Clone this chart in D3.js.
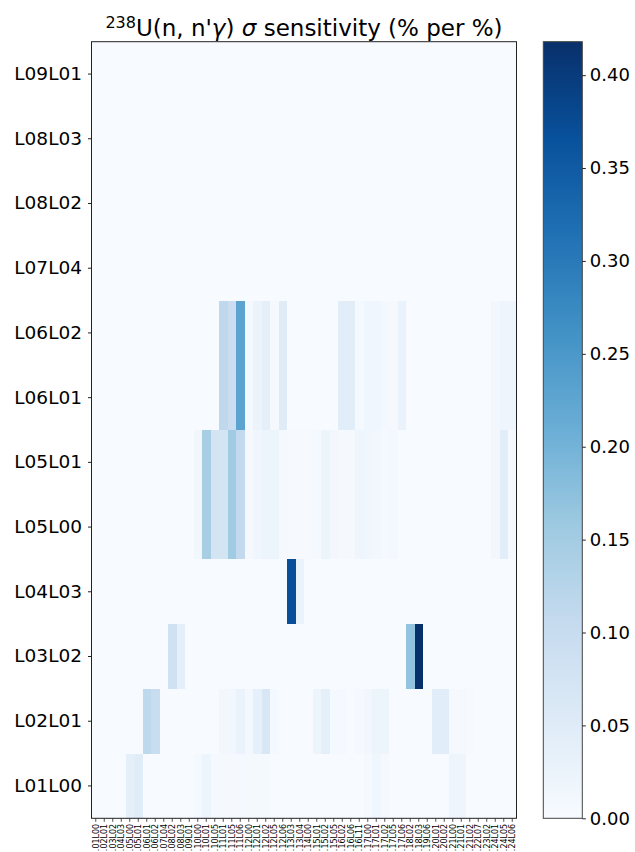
<!DOCTYPE html>
<html><head><meta charset="utf-8">
<script src="https://cdn.jsdelivr.net/npm/d3@7"></script>
<style>body{margin:0;background:#fff} svg{display:block} text{font-family:"DejaVu Sans",sans-serif}</style>
</head><body><svg id="c" width="635" height="852"></svg>
<script>
const rowLabels = ["L09L01","L08L03","L08L02","L07L04","L06L02","L06L01","L05L01","L05L00","L04L03","L03L02","L02L01","L01L00"];
const colLabels = [".01L00",".02L01",".03L02",".04L03",".05L00",".05L01",".06L01",".06L02",".07L04",".08L02",
  ".08L03",".09L01",".10L00",".10L01",".10L05",".11L01",".11L05",".11L06",".12L00",".12L01",
  ".12L02",".12L05",".12L06",".13L03",".13L04",".14L00",".15L01",".15L02",".15L05",".16L02",
  ".16L06",".16L11",".17L00",".17L01",".17L02",".17L05",".17L06",".18L02",".18L03",".19L06",
  ".20L01",".20L02",".21L00",".21L01",".21L02",".22L07",".23L02",".24L01",".24L05",".24L06"];

const L09L01 = [0,0,0,0,0,0,0,0,0,0, 0,0,0,0,0,0,0,0,0,0, 0,0,0,0,0,0,0,0,0,0, 0,0,0,0,0,0,0,0,0,0, 0,0,0,0,0,0,0,0,0,0];
const L08L03 = [0,0,0,0,0,0,0,0,0,0, 0,0,0,0,0,0,0,0,0,0, 0,0,0,0,0,0,0,0,0,0, 0,0,0,0,0,0,0,0,0,0, 0,0,0,0,0,0,0,0,0,0];
const L08L02 = [0,0,0,0,0,0,0,0,0,0, 0,0,0,0,0,0,0,0,0,0, 0,0,0,0,0,0,0,0,0,0, 0,0,0,0,0,0,0,0,0,0, 0,0,0,0,0,0,0,0,0,0];
const L07L04 = [0,0,0,0,0,0,0,0,0,0, 0,0,0,0,0,0,0,0,0,0, 0,0,0,0,0,0,0,0,0,0, 0,0,0,0,0,0,0,0,0,0, 0,0,0,0,0,0,0,0,0,0];
const L06L02 = [0,0,0,0,0,0,0,0,0,0, 0,0,0,0,0,.114,.094,.23,.008,.025, .04,.005,.05,0,0,0,0,0,0,.045, .045,.008,.016,.016,.01,.005,.028,0,0,0, 0,0,0,0,0,0,0,.012,.018,.018];
const L06L01 = [0,0,0,0,0,0,0,0,0,0, 0,0,0,0,0,.114,.094,.23,.008,.025, .04,.005,.05,0,0,0,0,0,0,.045, .045,.008,.016,.016,.01,.005,.028,0,0,0, 0,0,0,0,0,0,0,.012,.018,.018];
const L05L01 = [0,0,0,0,0,0,0,0,0,0, 0,0,.012,.144,.076,.076,.154,.11,.005,.015, .02,.022,.005,.002,.002,.002,.008,.022,.012,.005, .005,.018,.016,.012,.008,.01,0,0,0,0, 0,0,0,0,0,0,0,.012,.045,.005];
const L05L00 = [0,0,0,0,0,0,0,0,0,0, 0,0,.012,.144,.076,.076,.154,.11,.005,.015, .02,.022,.005,.002,.002,.002,.008,.022,.012,.005, .005,.018,.016,.012,.008,.01,0,0,0,0, 0,0,0,0,0,0,0,.012,.045,.005];
const L04L03 = [0,0,0,0,0,0,0,0,0,0, 0,0,0,0,0,0,0,0,0,0, 0,0,0,.37,.027,0,0,0,0,0, 0,0,0,0,0,0,0,0,0,0, 0,0,0,0,0,0,0,0,0,0];
const L03L02 = [0,0,0,0,0,0,0,0,0,.085, .04,0,0,0,0,0,0,0,0,0, 0,0,0,0,0,0,0,0,0,0, 0,0,0,0,0,0,0,.168,.418,0, 0,0,0,0,0,0,0,0,0,0];
const L02L01 = [0,0,0,0,0,0,.115,.098,0,0, 0,0,0,0,0,.012,.013,.028,.01,.035, .065,.008,0,0,0,0,.02,.04,.008,.008, 0,.008,.013,.022,.02,0,0,0,0,0, .045,.045,.005,.005,.004,0,0,0,0,0];
const L01L00 = [0,0,0,0,.04,.048,0,0,0,0, 0,0,.008,.02,.005,.006,.005,.008,.006,.006, .006,0,0,0,0,0,0,0,0,0, 0,0,.008,.015,.005,0,0,0,0,0, 0,0,.018,.018,0,0,0,0,0,0];

const rowValues = [L09L01,L08L03,L08L02,L07L04,L06L02,L06L01,L05L01,L05L00,L04L03,L03L02,L02L01,L01L00];
const cbTicks = [0,0.05,0.10,0.15,0.20,0.25,0.30,0.35,0.40];
const vmax = 0.418;
const blues = ["#f7fbff","#deebf7","#c6dbef","#9ecae1","#6baed6","#4292c6","#2171b5","#08519c","#08306b"];

const svg = d3.select("#c");
const P = {l:91.5, r:516.5, t:41.7, b:818.3};
const CB = {l:543.3, r:582.3};

const x = d3.scaleBand().domain(colLabels).range([P.l, P.r]);
const y = d3.scaleBand().domain(rowLabels).range([P.t, P.b]);
const color = d3.scaleLinear()
  .domain(blues.map((c,i)=> i/(blues.length-1)*vmax))
  .range(blues).clamp(true);

const cells = [];
rowLabels.forEach((r,i)=> colLabels.forEach((c,j)=> cells.push({r, c, v: rowValues[i][j]})));

svg.append("g").selectAll("rect").data(cells).join("rect")
  .attr("x", d=>x(d.c)).attr("y", d=>y(d.r))
  .attr("width", x.bandwidth()).attr("height", y.bandwidth())
  .attr("fill", d=>color(d.v))
  .attr("shape-rendering","crispEdges");

// frame
svg.append("rect").attr("x",P.l).attr("y",P.t).attr("width",P.r-P.l).attr("height",P.b-P.t)
  .attr("fill","none").attr("stroke","#222").attr("stroke-width",1);

// y axis
const ya = svg.append("g").attr("transform",`translate(${P.l},0)`)
  .call(d3.axisLeft(y).tickSize(3.5).tickPadding(6));
ya.select(".domain").remove();
ya.selectAll("text").attr("font-size","18.5px").attr("font-family","DejaVu Sans").attr("fill","#000");
ya.selectAll("line").attr("stroke","#222");

// x axis
const xa = svg.append("g").attr("transform",`translate(0,${P.b})`)
  .call(d3.axisBottom(x).tickSize(3.5).tickPadding(2));
xa.select(".domain").remove();
xa.selectAll("line").attr("stroke","#222").attr("stroke-width",0.8);
xa.selectAll("text")
  .attr("font-size","8px").attr("font-family","DejaVu Sans").attr("fill","#000")
  .attr("transform","rotate(-90)")
  .attr("y",0).attr("x",-5.5).attr("dy","0.35em")
  .style("text-anchor","end");

// colorbar
const defs = svg.append("defs");
const grad = defs.append("linearGradient").attr("id","cbg")
  .attr("x1","0").attr("y1","1").attr("x2","0").attr("y2","0");
blues.forEach((c,i)=> grad.append("stop").attr("offset", i/(blues.length-1)).attr("stop-color", c));
svg.append("rect").attr("x",CB.l).attr("y",P.t).attr("width",CB.r-CB.l).attr("height",P.b-P.t)
  .attr("fill","url(#cbg)").attr("stroke","#444").attr("stroke-width",1);

const cy = d3.scaleLinear().domain([0, vmax]).range([P.b, P.t]);
const ca = svg.append("g").attr("transform",`translate(${CB.r},0)`)
  .call(d3.axisRight(cy).tickValues(cbTicks).tickFormat(d3.format(".2f")).tickSize(3.5).tickPadding(4));
ca.select(".domain").remove();
ca.selectAll("text").attr("font-size","18px").attr("font-family","DejaVu Sans").attr("fill","#000");
ca.selectAll("line").attr("stroke","#222");

// title
const title = svg.append("text").attr("x",(P.l+P.r)/2).attr("y",36)
  .attr("text-anchor","middle").attr("font-size","23px").attr("fill","#000");
title.append("tspan").attr("font-size","16px").attr("dy","-8").text("238");
title.append("tspan").attr("dy","8").text("U(n, n'");
title.append("tspan").attr("font-style","italic").text("γ");
title.append("tspan").text(") ");
title.append("tspan").attr("font-style","italic").text("σ");
title.append("tspan").text(" sensitivity (% per %)");
</script></body></html>
